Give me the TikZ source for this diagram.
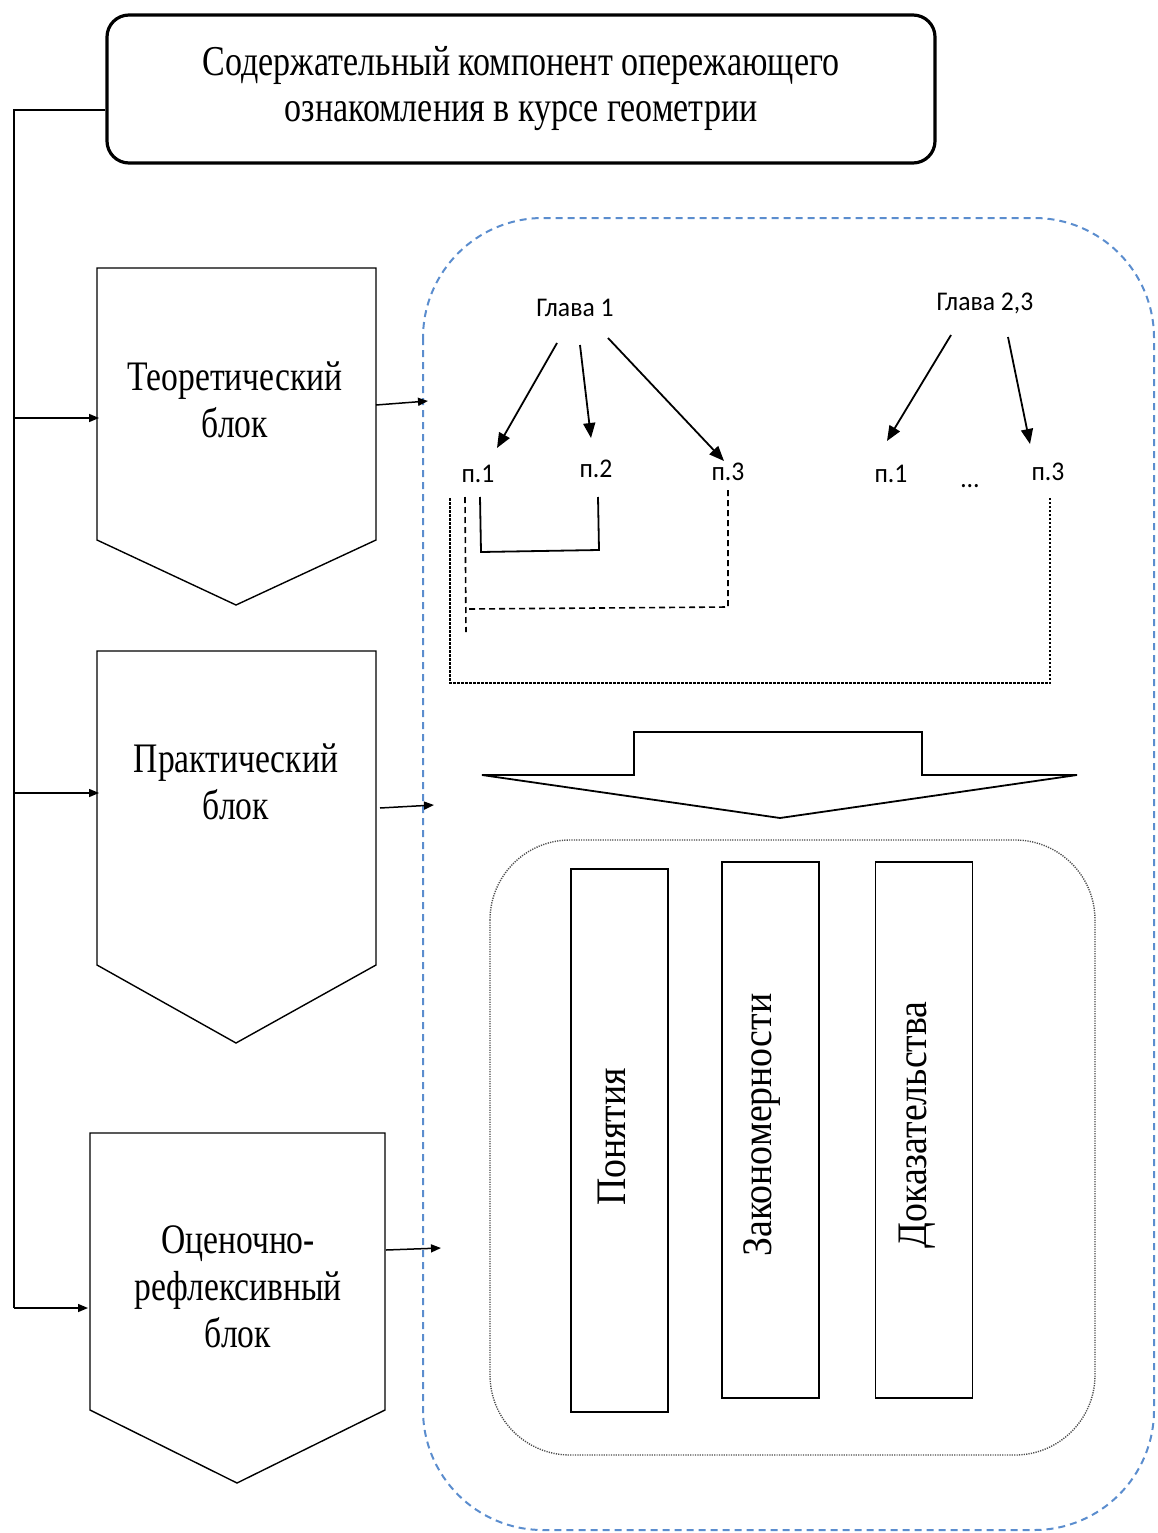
\documentclass[tikz,border=0pt]{standalone}
\usepackage{fontspec}
\setmainfont{Liberation Serif}
\newfontfamily\glfont{Carlito}
\usetikzlibrary{arrows.meta}
\begin{document}
\begin{tikzpicture}[x=1pt,y=-1pt,
  line/.style={line width=1.5pt,black},
  arr/.style={line width=1.5pt,-{Triangle[length=10pt,width=8pt]}},
  iarr/.style={line width=1.8pt,-{Triangle[length=15pt,width=12pt]}},
  blk/.style={line width=1.4pt,black},
  lbl/.style={font=\fontsize{42}{47}\selectfont\addfontfeature{FakeStretch=0.8},align=center},
  gl/.style={font=\glfont\fontsize{27}{28}\selectfont\addfontfeature{FakeStretch=0.95}},
  rot/.style={font=\fontsize{42}{44}\selectfont\addfontfeature{FakeStretch=0.9},rotate=90},
  vbox/.style={draw,line width=1.5pt,minimum width=97pt,inner sep=0pt}
]
\useasboundingbox (0,0) rectangle (1157,1533);
% top box
\node[draw,line width=3.2pt,rounded corners=22pt,minimum width=828pt,minimum height=148pt,
  lbl,font=\fontsize{42.5}{46}\selectfont\addfontfeature{FakeStretch=0.8}] (top) at (521,89)
  {Содержательный компонент опережающего\\ознакомления в курсе геометрии};
% blocks
\draw[blk] (97,268) -- (376,268) -- (376,540) -- (236,605) -- (97,540) -- cycle;
\draw[blk] (97,651) -- (376,651) -- (376,965) -- (236,1043) -- (97,965) -- cycle;
\draw[blk] (90,1133) -- (385,1133) -- (385,1410) -- (237,1483) -- (90,1410) -- cycle;
\node[lbl] (b1) at (235,400) {Теоретический\\блок};
\node[lbl] (b2) at (236,782) {Практический\\блок};
\node[lbl] (b3) at (238,1287) {Оценочно-\\рефлексивный\\блок};
% left spine
\coordinate (s0) at (14,110);
\coordinate (s1) at (14,418);
\coordinate (s2) at (14,793);
\coordinate (s3) at (14,1308);
\draw[line] (top.west |- s0) -- (s0) -- (s3);
\draw[arr] (s1) -- (99,418);
\draw[arr] (s2) -- (99,793);
\draw[arr] (s3) -- (88,1308);
% container
\draw[color={rgb,255:red,91;green,141;blue,206},line width=2pt,dash pattern=on 7pt off 5pt,rounded corners=120pt]
  (423,218) rectangle (1154,1530);
\coordinate (c1) at (428,401);
\coordinate (c2) at (434,805);
\coordinate (c3) at (441,1248);
\draw[arr] (376,405) -- (c1);
\draw[arr] (380,808) -- (c2);
\draw[arr] (386,1250) -- (c3);
% chapters
\node[gl] (g1) at (575,308) {Глава 1};
\node[gl] (g2) at (985,303) {Глава 2,3};
\node[gl] (p11) at (478,474) {п.1};
\node[gl] (p12) at (596,469) {п.2};
\node[gl] (p13) at (728,472) {п.3};
\node[gl] (p21) at (891,474) {п.1};
\node[gl] (dots) at (970,486) {\dots};
\node[gl] (p23) at (1048,472) {п.3};
\draw[iarr] (557,343) -- (497,448);
\draw[iarr] (580,345) -- (591,438);
\draw[iarr] (608,338) -- (724,461);
\draw[iarr] (951,335) -- (887,441);
\draw[iarr] (1008,337) -- (1030,444);
% brackets
\draw[line width=1.8pt] (480,497) -- (481,552) -- (599,550) -- (598,497);
\draw[line width=1.6pt,dash pattern=on 6pt off 4pt] (465,497) -- (466,632);
\draw[line width=1.6pt,dash pattern=on 6pt off 4pt] (469,609) -- (728,607) -- (728,487);
\draw[line width=1.6pt,dash pattern=on 2.5pt off 1.5pt] (450,498) -- (450,683) -- (1050,683) -- (1050,498);
% big arrow
\draw[line width=1.8pt,line join=miter] (634,732) -- (922,732) -- (922,775) -- (1077,775) -- (780,818)
  -- (482,775) -- (634,775) -- cycle;
% inner dotted box
\draw[gray!60!black,line width=1.4pt,dash pattern=on 1.2pt off 1.2pt,rounded corners=80pt]
  (490,840) rectangle (1095,1455);
% vertical boxes
\node[vbox,minimum height=543pt] (v1) at (619.5,1140.5) {};
\node[vbox,minimum height=536pt] (v2) at (770.5,1130) {};
\node[vbox,minimum height=536pt] (v3) at (924,1130) {};
\node[rot] (t1) at (612,1137) {Понятия};
\node[rot] (t2) at (762,1125) {Закономерности};
\node[rot] (t3) at (917,1125) {Доказательства};
\end{tikzpicture}
\end{document}
